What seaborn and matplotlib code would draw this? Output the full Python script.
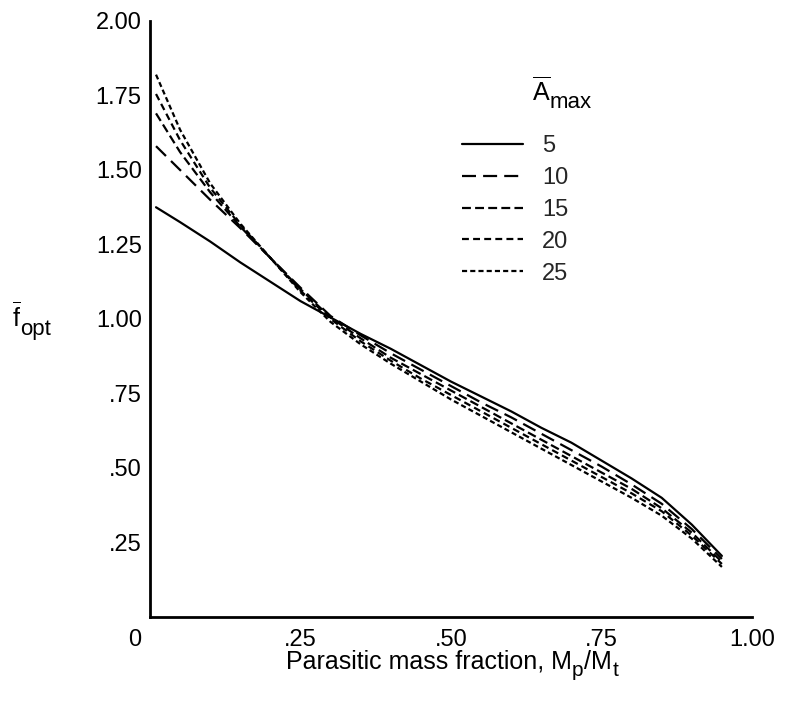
import numpy as np
import pandas as pd
import matplotlib
matplotlib.use("Agg")
import matplotlib.pyplot as plt
import matplotlib.transforms as mtrans
from matplotlib.ticker import MultipleLocator
import seaborn as sns

mass_fraction = [0.01, 0.05, 0.10, 0.15, 0.20, 0.25, 0.30, 0.35, 0.40, 0.45,
                 0.50, 0.55, 0.60, 0.65, 0.70, 0.75, 0.80, 0.85, 0.90, 0.95]
f_A5 = [1.375, 1.325, 1.26, 1.19, 1.125, 1.06, 1.005, 0.95, 0.90, 0.845,
        0.79, 0.74, 0.69, 0.635, 0.585, 0.525, 0.465, 0.40, 0.31, 0.205]
f_A10 = [1.58, 1.50, 1.40, 1.305, 1.205, 1.105, 1.01, 0.945, 0.885, 0.83,
         0.775, 0.72, 0.67, 0.615, 0.56, 0.505, 0.445, 0.38, 0.295, 0.195]
f_A15 = [1.69, 1.56, 1.425, 1.31, 1.205, 1.10, 1.005, 0.935, 0.87, 0.815,
         0.76, 0.705, 0.65, 0.595, 0.54, 0.485, 0.43, 0.365, 0.283, 0.185]
f_A20 = [1.755, 1.60, 1.44, 1.315, 1.205, 1.095, 1.0, 0.925, 0.86, 0.80,
         0.745, 0.69, 0.635, 0.58, 0.525, 0.47, 0.415, 0.355, 0.273, 0.178]
f_A25 = [1.82, 1.635, 1.455, 1.32, 1.205, 1.09, 0.99, 0.915, 0.85, 0.79,
         0.73, 0.675, 0.62, 0.565, 0.51, 0.455, 0.40, 0.34, 0.263, 0.168]
amax_labels = ["5", "10", "15", "20", "25"]
x_ticks = [0, 0.25, 0.50, 0.75, 1.00]
x_ticklabels = ["0", ".25", ".50", ".75", "1.00"]
y_ticks = [0.25, 0.50, 0.75, 1.00, 1.25, 1.50, 1.75, 2.00]
y_ticklabels = [".25", ".50", ".75", "1.00", "1.25", "1.50", "1.75", "2.00"]

series = [f_A5, f_A10, f_A15, f_A20, f_A25]
df = pd.concat([
    pd.DataFrame({"x": mass_fraction, "f": vals, "Amax": lab})
    for vals, lab in zip(series, amax_labels)
], ignore_index=True)

sns.set_theme(style="white")
plt.rcParams["font.family"] = ["Liberation Sans", "DejaVu Sans"]
plt.rcParams["mathtext.fontset"] = "custom"
plt.rcParams["mathtext.rm"] = "Liberation Sans"
plt.rcParams["mathtext.it"] = "Liberation Sans"

FS = 17
W, H = 786, 702
fig = plt.figure(figsize=(W / 100, H / 100), dpi=100)
ax = fig.add_axes([150 / W, 1 - 617 / H, 602 / W, 596 / H])

LW = 1.6
dash_map = {"5": "", "10": (6.3, 3.2), "15": (4.0, 1.9), "20": (3.1, 1.9), "25": (2.3, 1.4)}
sns.lineplot(data=df, x="x", y="f", style="Amax", style_order=amax_labels,
             dashes=dash_map, color="black", linewidth=LW, ax=ax, legend=False,
             sort=False)

handles = []
for k in amax_labels:
    h = plt.Line2D([], [], color="black", linewidth=LW, linestyle="-")
    if dash_map[k]:
        h.set_dashes(dash_map[k])
    handles.append(h)
leg = ax.legend(handles, amax_labels, loc="upper left",
                bbox_to_anchor=((462 - 150) / 602, (617 - 135) / 596),
                frameon=False, fontsize=FS, handlelength=2.6, handletextpad=0.8,
                labelspacing=0.42, borderpad=0, borderaxespad=0)

renderer = fig.canvas.get_renderer()


def rich(pieces, x0=None, y0=0, center=None, gap=0.5):
    """pieces: (text, fontsize, dy_px). Places pieces side by side on a baseline."""
    texts = []
    for s, size, dy in pieces:
        t = fig.text(0, 1 - (y0 + dy) / H, s, fontsize=size, ha="left",
                     va="baseline", color="black")
        texts.append(t)
    widths = [t.get_window_extent(renderer).width for t in texts]
    total = sum(widths) + gap * (len(texts) - 1)
    x = center - total / 2 if center is not None else x0
    for t, w in zip(texts, widths):
        t.set_x(x / W)
        x += w + gap
    return texts


# legend title
rich([(r"$\overline{\mathrm{A}}$", FS + 1, 0), ("max", FS - 1, 7)], x0=532, y0=101, gap=-1)

ax.set_xlim(0, 1.0)
ax.set_ylim(0, 2.0)
ax.set_xticks(x_ticks)
ax.set_xticklabels(x_ticklabels)
ax.set_yticks(y_ticks)
ax.set_yticklabels(y_ticklabels)
ax.xaxis.set_minor_locator(MultipleLocator(0.05))
ax.yaxis.set_minor_locator(MultipleLocator(0.25 / 6))
ax.tick_params(axis="both", which="major", direction="in", length=5, width=1.5,
               labelsize=FS, color="black", labelcolor="black")
ax.tick_params(axis="both", which="minor", direction="in", length=3, width=1.2,
               color="black")
ax.tick_params(axis="x", which="major", pad=9)
ax.tick_params(axis="y", which="major", pad=6)
lbl0 = ax.get_xticklabels()[0]
lbl0.set_transform(lbl0.get_transform() + mtrans.ScaledTranslation(-15 / 100, 0, fig.dpi_scale_trans))

for side in ["top", "right"]:
    ax.spines[side].set_visible(False)
for side in ["left", "bottom"]:
    ax.spines[side].set_linewidth(2)
    ax.spines[side].set_color("black")

# x axis title with large subscripts
ax.set_xlabel("")
rich([("Parasitic mass fraction, M", FS + 1, 0), ("p", FS - 2, 7), ("/M", FS + 1, 0),
      ("t", FS - 2, 7)], center=452, y0=669, gap=0.5)

# y axis title
ax.set_ylabel("")
rich([(r"$\overline{\mathrm{f}}$", FS + 1, 0), ("opt", FS - 1, 8)], x0=12, y0=327, gap=-1)

fig.savefig("out.png", dpi=100, facecolor="white")
